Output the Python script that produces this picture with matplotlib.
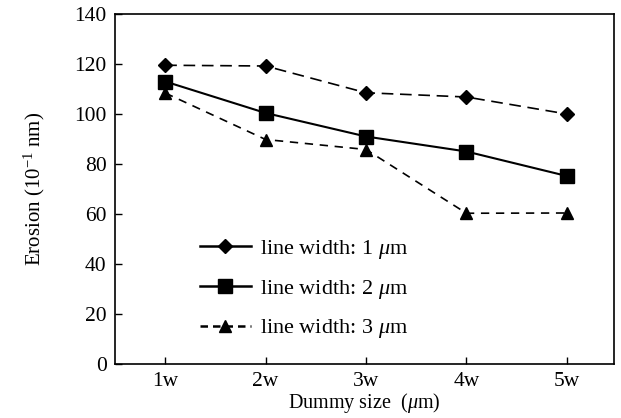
import numpy as np
import matplotlib
matplotlib.use("Agg")
import matplotlib.pyplot as plt
from matplotlib.lines import Line2D

plt.rcParams['font.family'] = ['Liberation Serif', 'DejaVu Serif']
plt.rcParams['mathtext.fontset'] = 'custom'
plt.rcParams['mathtext.rm'] = 'Liberation Serif'
plt.rcParams['mathtext.it'] = 'Liberation Serif:italic'

# data
sizes = ['1w', '2w', '3w', '4w', '5w']
width_1um = [119.5, 119.2, 108.5, 106.8, 100.0]
width_2um = [113.0, 100.4, 91.0, 85.0, 75.2]
width_3um = [108.4, 89.8, 85.8, 60.3, 60.4]
labels = ['line width: 1 $\\mu$m', 'line width: 2 $\\mu$m', 'line width: 3 $\\mu$m']

x = np.arange(1, len(sizes) + 1)

fig = plt.figure(figsize=(6.21, 4.18), dpi=100)
ax = fig.add_axes([115/621, 54/418, 499/621, 350/418])

ax.plot(x, width_1um, color='black', ls=(0, (7, 4)), lw=1.2, marker='D', ms=7)
ax.plot(x, width_2um, color='black', ls='-', lw=1.5, marker='s', ms=10)
ax.plot(x, width_3um, color='black', ls=(0, (5, 4)), lw=1.2, marker='^', ms=9)

# legend handles as drawn in the original (first one solid)
handles = [
    Line2D([], [], color='black', ls='-', lw=1.8, marker='D', ms=7),
    Line2D([], [], color='black', ls='-', lw=1.8, marker='s', ms=10),
    Line2D([], [], color='black', ls=(0, (3, 2)), lw=1.8, marker='^', ms=9),
]
ax.legend(handles, labels, loc='upper left', bbox_to_anchor=(0.13, 0.418),
          frameon=False, fontsize=16, handlelength=2.3, labelspacing=0.76,
          handletextpad=0.4)

ax.set_xlim(0.5, 5.47)
ax.set_ylim(0, 140)
ax.set_xticks(x)
ax.set_xticklabels(sizes)
ax.set_yticks(np.arange(0, 141, 20))
ax.tick_params(direction='in', length=5, width=1, labelsize=15.5, pad=6)
for s in ax.spines.values():
    s.set_linewidth(1.2)

ax.set_xlabel('Dummy size  ($\\mu$m)', fontsize=14.5, labelpad=0)
ax.set_ylabel('Erosion (10$^{-1}$ nm)', fontsize=15, labelpad=20)

plt.savefig('out.png', dpi=100)
